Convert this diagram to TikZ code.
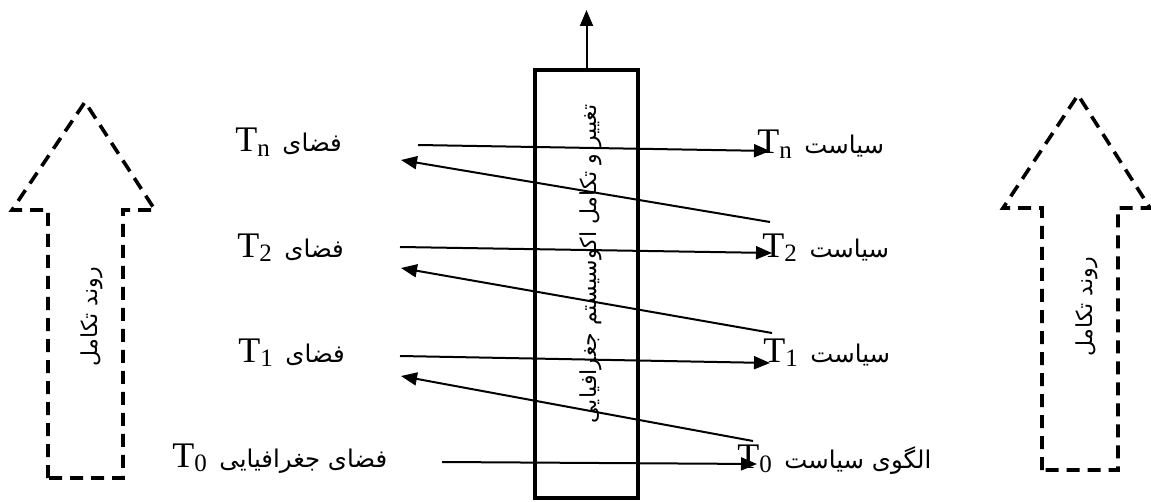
\documentclass[tikz,border=0pt]{standalone}
\usepackage{fontspec}
\setmainfont{Liberation Serif}
\newfontfamily\fa[Script=Arabic]{DejaVu Sans}
\TeXXeTstate=1
\usetikzlibrary{arrows.meta}
\newcommand\Tlab[1]{T\raisebox{-0.12em}{\fontsize{12.5}{12.5}\selectfont #1}}
\newcommand\fap[1]{{\fa\fontsize{12.2}{14}\selectfont\beginR #1\endR}}
\tikzset{
  lbl/.style={anchor=base west, inner sep=0pt, font=\fontsize{18}{20}\selectfont},
  fatext/.style={font=\fa\fontsize{11}{13}\selectfont},
  conn/.style={line width=1pt, -{Triangle[length=8pt,width=6.5pt]}},
  dasharrow/.style={line width=1.8pt, dash pattern=on 6.5pt off 4pt, line join=miter},
  ecobox/.style={draw, line width=1.8pt, minimum width=51.5pt, minimum height=214pt, inner sep=0pt}
}
\begin{document}
\begin{tikzpicture}[x=0.5pt, y=-0.5pt]
\useasboundingbox (0,0) rectangle (1151,502);

% left and right dashed arrows
\draw[dasharrow] (48,478) -- (48,210) -- (12,210) -- (85,102) -- (155,210) -- (123,210) -- (123,478) -- cycle;
\node[fatext, rotate=90] (lt) at (92,317) {\beginR روند تکامل\endR};
\draw[dasharrow] (1042,470) -- (1042,208) -- (1003,208) -- (1078,95) -- (1150,208) -- (1118,208) -- (1118,470) -- cycle;
\node[fatext, rotate=90] (rt) at (1087,307) {\beginR روند تکامل\endR};

% central box
\node[ecobox] (eco) at (586.5,284) {};
\coordinate (ecotop) at (586.5,10);
\draw[conn] (eco.north) -- (ecotop);
\node[fatext, rotate=90] (ecot) at (591,264) {\beginR تغییر و تکامل اکوسیستم جغرافیایی\endR};

% left labels
\node[lbl] (fn) at (235,152) {\Tlab{n}\hspace{0.35em}\fap{فضای}};
\node[lbl] (f2) at (237,257) {\Tlab{2}\hspace{0.35em}\fap{فضای}};
\node[lbl] (f1) at (238,362) {\Tlab{1}\hspace{0.35em}\fap{فضای}};
\node[lbl] (f0) at (172,467) {\Tlab{0}\hspace{0.35em}\fap{فضای جغرافیایی}};

% right labels
\node[lbl] (sn) at (757,154) {\Tlab{n}\hspace{0.35em}\fap{سیاست}};
\node[lbl] (s2) at (762,257) {\Tlab{2}\hspace{0.35em}\fap{سیاست}};
\node[lbl] (s1) at (763,362) {\Tlab{1}\hspace{0.35em}\fap{سیاست}};
\node[lbl] (s0) at (737,468) {\Tlab{0}\hspace{0.35em}\fap{الگوی سیاست}};

% connector end points
\coordinate (an1) at (418,145); \coordinate (an2) at (770,151);
\coordinate (bn1) at (770,222); \coordinate (bn2) at (401,160);
\coordinate (a21) at (400,247); \coordinate (a22) at (772,253);
\coordinate (b21) at (772,333); \coordinate (b22) at (401,268);
\coordinate (a11) at (400,356); \coordinate (a12) at (770,363);
\coordinate (b11) at (753,441); \coordinate (b12) at (401,376);
\coordinate (a01) at (442,462); \coordinate (a02) at (757,464);

\draw[conn] (an1) -- (an2);
\draw[conn] (bn1) -- (bn2);
\draw[conn] (a21) -- (a22);
\draw[conn] (b21) -- (b22);
\draw[conn] (a11) -- (a12);
\draw[conn] (b11) -- (b12);
\draw[conn] (a01) -- (a02);
\end{tikzpicture}
\end{document}
